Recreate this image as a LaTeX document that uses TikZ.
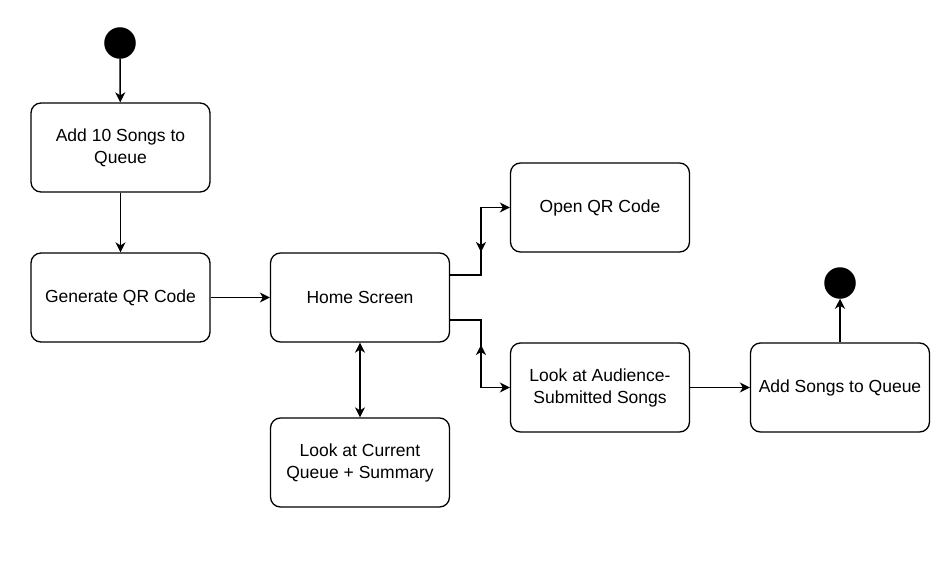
\documentclass[tikz,border=0pt]{standalone}
\usepackage{fontspec}
\setmainfont{Liberation Sans}
\usetikzlibrary{shapes,arrows.meta,positioning}

\begin{document}
\begin{tikzpicture}[x=1pt,y=-1pt,->,>={Stealth[length=10pt,width=10pt,inset=3pt]},line width=1.5pt,
	state node/.style={draw, line width=1.3pt, rounded corners=10pt, minimum width=179pt, minimum height=89pt, align=center, font=\fontsize{17.5}{22}\selectfont},
	dot node/.style={draw, circle, fill=black, minimum size=30pt, inner sep=0pt}]
	\useasboundingbox (0,0) rectangle (948,565);
	\node[dot node] (start) at (120,43) {};
	\node[state node] (1) at (120.5,147.5) {Add 10 Songs to\\Queue};
	\node[state node] (2) at (120.5,297.5) {Generate QR Code};
	\node[state node] (3) at (360,297.5) {Home Screen};
	\node[state node] (4) at (360,462.5) {Look at Current\\Queue + Summary};
	\node[state node] (5) at (600,207.5) {Open QR Code};
	\node[state node] (6) at (600,387.5) {Look at Audience-\\Submitted Songs};
	\node[state node] (7) at (840,387.5) {Add Songs to Queue};
	\node[dot node] (stop) at (840,283) {};
	
	\coordinate (k1) at (481,240);
	\coordinate (k2) at (481,357);
	
	\draw (start) -- (1);
	\draw (1) -- (2);
	\draw (2) -- (3);
	\draw[<->] (3) -- (4);
	\draw ([yshift=22.5pt]3.east) -- ++(31,0) |- (5.west);
	\draw (k1) -- ++(0,12);
	\draw ([yshift=-22.5pt]3.east) -- ++(31,0) |- (6.west);
	\draw (k2) -- ++(0,-12);
	\draw (6) -- (7);
	\draw (7) -- (stop);
\end{tikzpicture}
\end{document}
